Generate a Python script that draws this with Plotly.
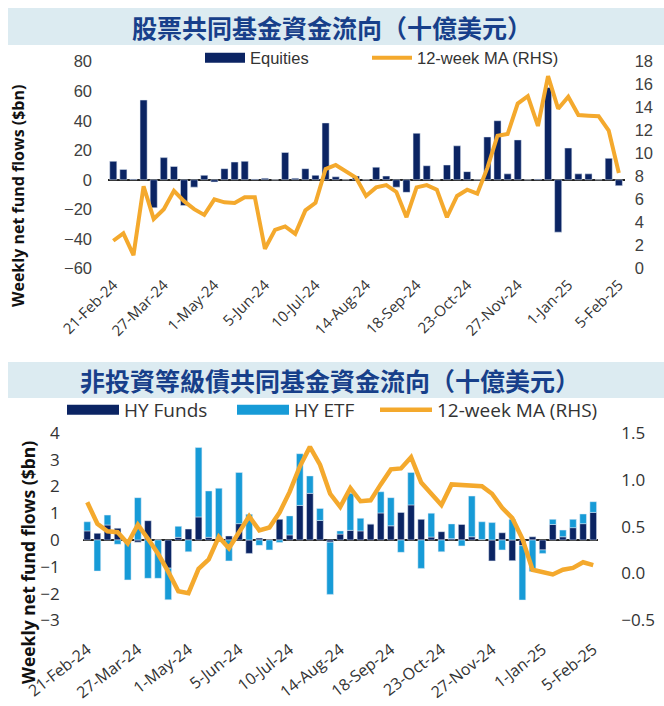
import pandas as pd
import plotly.graph_objects as go

# ---------------- data ----------------
weeks = [d.strftime("%-d-%b-%y") for d in pd.date_range("2024-02-21", periods=51, freq="7D")]
tick_labels = ["21-Feb-24", "27-Mar-24", "1-May-24", "5-Jun-24", "10-Jul-24", "14-Aug-24",
               "18-Sep-24", "23-Oct-24", "27-Nov-24", "1-Jan-25", "5-Feb-25"]

equities = [12.5, 7, 0.5, 54, -19, 15, 9, -17.5, -5, 3,
            -1.5, 7.5, 12, 12.5, 0.5, 1, 0, 18.5, 1, 7.5,
            3, 38.5, 2, 0, 2.5, 0, 8.5, 2.5, -5, -8.5,
            31.5, 9.5, 0, 10, 23, 5.5, 0, 29, 40, 4,
            27, 0, 0.5, 62.5, -35.5, 21.5, 4, 4, 0, 14.5, -4]
equities_ma = [2.4, 3.05, 1.15, 7.15, 4.3, 5.15, 6.75, 5.85, 5.15, 4.65,
               6.0, 5.75, 5.7, 6.2, 6.2, 1.7, 3.35, 3.65, 3.0, 5.05,
               5.7, 8.65, 9.0, 8.4, 7.9, 6.3, 7.05, 7.25, 6.65, 4.45,
               7.05, 7.25, 6.85, 4.45, 6.3, 6.85, 6.5, 8.75, 11.55, 11.7,
               14.35, 15.0, 12.4, 16.75, 13.9, 14.95, 13.35, 13.3, 13.25, 12.0, 8.3]

hy_funds = [0.34, 0.25, 0.56, 0.44, 0.02, -0.08, 0.72, 0.0, -1.05, 0.1,
            0.41, 0.86, 0.1, 0.05, 0.15, 0.61, -0.5, 0.07, 0.0, 0.77,
            0.19, 1.29, 1.74, 0.73, -0.08, 0.22, 0.36, 0.34, 0.6, 1.01,
            0.53, 1.03, 1.31, 0.77, 0.11, 0.31, 0.05, 0.58, 0.12, 0.02,
            -0.78, 0.27, -0.77, -0.21, 0.12, -0.37, 0.58, 0.12, 0.46, 0.61, 1.03]
hy_etf = [0.34, -1.16, 0.37, -0.16, -1.49, 1.58, -1.43, -1.43, -1.18, 0.41,
          -0.44, 2.59, 1.73, 1.88, -0.78, 1.91, 0.96, -0.2, -0.37, -0.09,
          0.71, 1.93, 0.65, 0.45, -1.95, 0.12, 1.38, 0.47, 0.0, 0.79,
          1.05, -0.46, 1.21, -1.06, 0.89, -0.44, 0.55, -0.22, 1.52, 0.66,
          0.65, -0.37, 0.77, -2.03, -1.18, -0.13, 0.19, 0.25, 0.31, 0.36, 0.4]
hy_ma = [0.76, 0.53, 0.45, 0.44, 0.32, 0.52, 0.37, 0.21, 0.02, -0.19,
         -0.21, 0.05, 0.15, 0.39, 0.27, 0.44, 0.61, 0.46, 0.49, 0.65,
         0.87, 1.14, 1.35, 1.16, 0.85, 0.71, 0.91, 0.77, 0.78, 0.95,
         1.11, 1.12, 1.24, 0.97, 0.85, 0.73, 0.95, 0.94, 0.94, 0.93,
         0.85, 0.70, 0.59, 0.37, 0.04, 0.02, -0.01, 0.04, 0.06, 0.12, 0.09]

# ---------------- styles ----------------
NAVY = "#0b2463"
LIGHT = "#179bd7"
ORANGE = "#f4a92d"
TITLE_C = "#173f8a"
BANNER = "#dcebf1"
NARROW = "Liberation Sans Narrow, Liberation Sans, Arial, sans-serif"
SANS = "Open Sans, Noto Sans, sans-serif"
CJK = "Noto Sans CJK TC, Noto Sans CJK SC, sans-serif"
H, W = 706, 664

def py(px):
    return 1 - px / H

fig = go.Figure()

# top chart
fig.add_trace(go.Bar(x=weeks, y=equities, marker_color=NAVY, width=0.7,
                     name="Equities", showlegend=False, xaxis="x", yaxis="y"))
fig.add_trace(go.Scatter(x=[None], y=[None], mode="lines", line=dict(color=NAVY, width=10),
                         name="Equities", legend="legend", xaxis="x", yaxis="y"))
fig.add_trace(go.Scatter(x=weeks, y=equities_ma, mode="lines", line=dict(color=ORANGE, width=4),
                         name="12-week MA (RHS)", legend="legend2", xaxis="x", yaxis="y2"))

# bottom chart
fig.add_trace(go.Bar(x=weeks, y=hy_funds, marker_color=NAVY, width=0.66,
                     name="HY Funds", showlegend=False, xaxis="x2", yaxis="y3"))
fig.add_trace(go.Bar(x=weeks, y=hy_etf, marker_color=LIGHT, width=0.66,
                     name="HY ETF", showlegend=False, xaxis="x2", yaxis="y3"))
fig.add_trace(go.Scatter(x=[None], y=[None], mode="lines", line=dict(color=NAVY, width=10),
                         name="HY Funds", legend="legend3", xaxis="x2", yaxis="y3"))
fig.add_trace(go.Scatter(x=[None], y=[None], mode="lines", line=dict(color=LIGHT, width=10),
                         name="HY ETF", legend="legend4", xaxis="x2", yaxis="y3"))
fig.add_trace(go.Scatter(x=weeks, y=hy_ma, mode="lines", line=dict(color=ORANGE, width=4.5),
                         name="12-week MA (RHS)", legend="legend5", xaxis="x2", yaxis="y4"))

common_y = dict(showgrid=False, showline=False, ticks="", fixedrange=True, automargin=False)

def leg(xpx, ypx, font, iw):
    return dict(orientation="h", x=xpx / W, y=py(ypx), xanchor="left", yanchor="middle",
                font=font, bgcolor="rgba(0,0,0,0)", itemwidth=iw)

top_leg_font = dict(family=NARROW, size=16.5, color="#333")
bot_leg_font = dict(family=SANS, size=19, color="#333")

fig.update_layout(
    width=W, height=H, autosize=False,
    margin=dict(l=0, r=0, t=0, b=0, pad=0, autoexpand=False),
    paper_bgcolor="white", plot_bgcolor="white",
    barmode="relative", bargap=0.3,
    xaxis=dict(domain=[108 / W, 624.7 / W], anchor="y", type="category", automargin=False,
               range=[-0.52, 50.58], tickvals=weeks[::5], ticktext=tick_labels,
               tickangle=-45, tickfont=dict(family=SANS, size=15, color="#333"),
               showgrid=False, showline=False, ticks="", ticklabelstandoff=4, fixedrange=True),
    yaxis=dict(domain=[py(268.3), py(61.7)], range=[-60, 80], tickvals=list(range(-60, 81, 20)),
               zeroline=True, zerolinecolor="#222", zerolinewidth=1.5,
               tickfont=dict(family=NARROW, size=16.5, color="#404040"), ticklabelstandoff=15, **common_y),
    yaxis2=dict(overlaying="y", side="right", anchor="x", range=[0, 18], tickvals=list(range(0, 19, 2)),
                zeroline=False, tickfont=dict(family=NARROW, size=16.5, color="#404040"),
                ticklabelstandoff=9, **common_y),
    xaxis2=dict(domain=[82.7 / W, 598.3 / W], anchor="y3", type="category", automargin=False,
                range=[-0.45, 50.5], tickvals=weeks[::5], ticktext=tick_labels,
                tickangle=-38, tickfont=dict(family=SANS, size=16, color="#333"),
                showgrid=False, showline=False, ticks="", ticklabelstandoff=16, fixedrange=True),
    yaxis3=dict(domain=[py(620.4), py(432.8)], anchor="x2", range=[-3, 4], tickvals=list(range(-3, 5)),
                zeroline=True, zerolinecolor="#222", zerolinewidth=1.5,
                tickfont=dict(family=SANS, size=17, color="#333"), ticklabelstandoff=22, **common_y),
    yaxis4=dict(overlaying="y3", side="right", anchor="x2", range=[-0.5, 1.5],
                tickvals=[-0.5, 0, 0.5, 1.0, 1.5], tickformat=".1f", zeroline=False,
                tickfont=dict(family=SANS, size=17, color="#333"), ticklabelstandoff=22, **common_y),
    legend=leg(200, 58, top_leg_font, 40),
    legend2=leg(367, 58, top_leg_font, 40),
    legend3=leg(62, 410, bot_leg_font, 52),
    legend4=leg(232, 410, bot_leg_font, 52),
    legend5=leg(375, 410, bot_leg_font, 52),
    shapes=[
        dict(type="rect", xref="paper", yref="paper", x0=8 / W, x1=1, y0=py(45), y1=py(8),
             fillcolor=BANNER, line=dict(width=0), layer="below"),
        dict(type="rect", xref="paper", yref="paper", x0=8 / W, x1=1, y0=py(398), y1=py(362),
             fillcolor=BANNER, line=dict(width=0), layer="below"),
    ],
    annotations=[
        dict(text="<b>股票共同基金資金流向（十億美元）</b>", xref="paper", yref="paper",
             x=0.5, y=py(26.5), xanchor="center", yanchor="middle", showarrow=False,
             font=dict(family=CJK, size=25, color=TITLE_C)),
        dict(text="<b>非投資等級債共同基金資金流向（十億美元）</b>", xref="paper", yref="paper",
             x=0.497, y=py(380), xanchor="center", yanchor="middle", showarrow=False,
             font=dict(family=CJK, size=25, color=TITLE_C)),
        dict(text="<b>Weekly net fund flows ($bn)</b>", xref="paper", yref="paper",
             x=18 / W, y=py(196), xanchor="center", yanchor="middle", textangle=-90, showarrow=False,
             font=dict(family=SANS, size=16, color="#111")),
        dict(text="<b>Weekly net fund flows ($bn)</b>", xref="paper", yref="paper",
             x=28 / W, y=py(563), xanchor="center", yanchor="middle", textangle=-90, showarrow=False,
             font=dict(family=SANS, size=17.5, color="#111")),
    ],
)

fig.write_html("out.html", config={"displayModeBar": False},
               post_script="document.body.style.margin='0';")
